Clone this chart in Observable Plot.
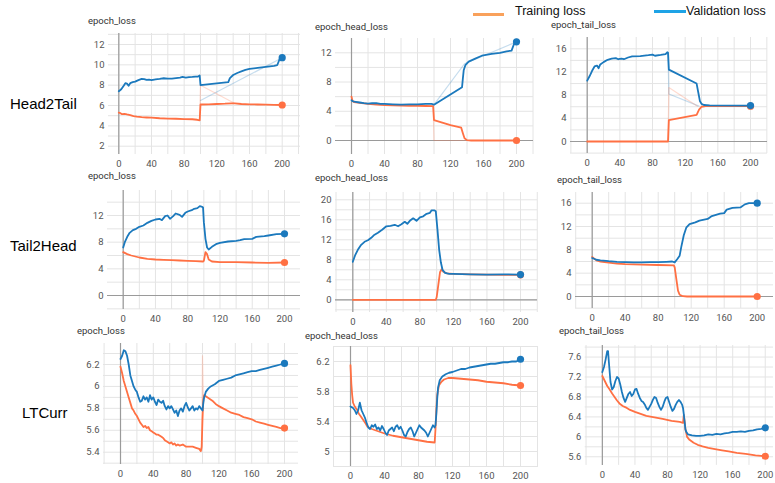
<!DOCTYPE html>
<html><head><meta charset="utf-8">
<script src="https://cdn.jsdelivr.net/npm/d3@7"></script>
<script src="https://cdn.jsdelivr.net/npm/@observablehq/plot@0.6"></script>
<style>
body{margin:0;background:#fff;}
#root{position:relative;width:775px;height:483px;overflow:hidden;background:#fff;}
.panel{position:absolute;}
.title{position:absolute;font:9.5px Roboto,"Liberation Sans",sans-serif;color:#333;white-space:nowrap;transform:translateY(-50%);}
.row{position:absolute;font:15px "Liberation Sans",Arial,sans-serif;color:#000;white-space:nowrap;transform:translateY(-50%);}
.leg{position:absolute;font:12.5px "Liberation Sans",Arial,sans-serif;color:#111;white-space:nowrap;transform:translateY(-50%);}
.legline{position:absolute;height:3px;}
</style></head><body><div id="root"></div>
<script>
// ---------------- data ----------------
const rowNames = ["Head2Tail", "Tail2Head", "LTCurr"];
const panelTitles = ["epoch_loss","epoch_head_loss","epoch_tail_loss","epoch_loss","epoch_head_loss","epoch_tail_loss","epoch_loss","epoch_head_loss","epoch_tail_loss"];
const legendLabels = ["Training loss", "Validation loss"];
const xTickLabels = [0, 40, 80, 120, 160, 200];

// Head2Tail
const h2tLossVal = [[0,7.4],[3,7.6],[6,7.95],[8,8.2],[10,8.15],[12,7.95],[14,8.2],[17,8.3],[20,8.35],[24,8.5],[28,8.62],[31,8.6],[34,8.52],[37,8.55],[40,8.5],[45,8.58],[50,8.62],[55,8.68],[60,8.65],[65,8.65],[70,8.7],[75,8.75],[78,8.82],[82,8.75],[86,8.8],[90,8.82],[94,8.85],[97,8.85],[99,8.95],[100,8.0],[134,8.3],[136,8.7],[140,9.0],[145,9.2],[150,9.35],[155,9.5],[160,9.6],[170,9.7],[180,9.8],[190,9.9],[194,9.98],[197,10.6],[200,10.7]];
const h2tLossTrain = [[0,5.3],[2,5.25],[4,5.15],[7,5.18],[10,5.12],[14,5.05],[18,4.95],[22,4.9],[28,4.85],[34,4.82],[40,4.8],[50,4.75],[60,4.72],[70,4.7],[80,4.67],[90,4.65],[96,4.6],[99,4.55],[100,6.1],[110,6.12],[120,6.15],[130,6.18],[138,6.22],[142,6.22],[150,6.15],[160,6.12],[170,6.1],[180,6.08],[190,6.06],[200,6.05]];
const h2tLossValRaw = [[100,6.5],[200,10.7]];
const h2tLossTrainRaw = [[99,4.55],[100,8.0],[141,6.25]];

const h2tHeadVal = [[0,5.5],[2,5.35],[5,5.3],[10,5.2],[15,5.1],[20,5.05],[25,5.1],[30,5.1],[35,5.0],[40,5.0],[50,4.95],[60,4.9],[70,4.95],[80,4.95],[90,5.0],[97,5.0],[100,4.9],[134,7.3],[135,8.5],[136,9.6],[138,10.3],[142,10.8],[150,11.2],[158,11.6],[170,11.85],[180,12.0],[188,12.2],[194,12.3],[197,13.2],[200,13.5]];
const h2tHeadTrain = [[0,6.0],[1,5.5],[3,5.25],[10,5.15],[20,5.0],[30,4.9],[40,4.85],[50,4.8],[60,4.78],[70,4.75],[80,4.73],[90,4.72],[99,4.7],[100,2.8],[110,2.45],[120,2.1],[133,1.75],[135,1.0],[137,0.3],[140,0.05],[145,0],[200,0]];
const h2tHeadValRaw = [[100,4.9],[137,10.5],[200,13.5]];
const h2tHeadTrainRaw = [[99,4.7],[100,0],[140,0]];

const h2tTailVal = [[0,10.5],[3,11.3],[6,12.2],[9,12.95],[12,13.1],[14,12.65],[16,13.3],[20,13.7],[25,14.1],[30,14.3],[35,14.4],[38,14.2],[42,14.3],[45,14.2],[50,14.5],[55,14.7],[65,14.75],[75,14.9],[80,15.0],[83,14.8],[90,14.95],[96,15.1],[98,15.4],[99,15.3],[100,12.4],[134,10.0],[136,8.5],[138,7.0],[140,6.5],[143,6.3],[150,6.25],[200,6.2]];
const h2tTailTrain = [[0,0],[99,0],[100,3.7],[134,4.6],[137,5.5],[140,6.0],[145,6.1],[200,6.1]];
const h2tTailValRaw = [[99,15.3],[100,8.2],[137,6.1]];
const h2tTailTrainRaw = [[99,0],[100,9.3],[135,6.1]];

// Tail2Head
const t2hLossVal = [[0,7.2],[2,8.0],[5,8.8],[8,9.4],[12,9.8],[16,10.0],[20,10.3],[25,10.5],[30,10.9],[35,11.2],[40,11.4],[45,11.5],[48,11.3],[52,11.9],[55,12.0],[58,11.5],[62,11.9],[65,12.3],[70,12.1],[73,11.8],[77,12.4],[80,12.6],[85,12.8],[88,13.0],[92,13.1],[95,13.4],[98,13.3],[99,13.2],[100,11.0],[102,8.5],[104,7.2],[106,6.9],[110,7.3],[115,7.7],[120,7.9],[130,8.1],[140,8.2],[145,8.3],[150,8.45],[160,8.5],[165,8.8],[175,8.9],[180,9.0],[190,9.2],[200,9.25]];
const t2hLossTrain = [[0,6.5],[5,6.2],[10,6.0],[20,5.7],[30,5.5],[40,5.4],[50,5.35],[60,5.3],[70,5.25],[80,5.2],[90,5.15],[99,5.1],[100,5.2],[102,6.5],[104,6.2],[106,5.4],[110,5.1],[120,5.0],[140,5.0],[160,4.95],[180,4.9],[200,4.95]];

const t2hHeadVal = [[0,7.6],[3,9.0],[6,10.0],[10,11.0],[14,11.6],[18,11.9],[22,12.4],[25,12.9],[30,13.4],[35,14.0],[40,14.7],[45,14.8],[50,15.0],[54,14.7],[58,15.1],[62,15.6],[65,15.2],[68,15.8],[72,16.3],[76,15.8],[80,16.5],[84,16.7],[88,17.2],[92,17.4],[94,17.9],[97,17.9],[99,17.7],[101,14.0],[103,10.0],[105,7.5],[107,6.0],[110,5.4],[115,5.2],[120,5.2],[140,5.1],[160,5.05],[180,5.1],[200,5.05]];
const t2hHeadTrain = [[0,0],[99,0],[100,0.5],[102,3.0],[104,5.5],[106,6.1],[108,5.6],[112,5.3],[120,5.2],[140,5.1],[160,5.05],[180,5.0],[200,5.0]];

const t2hTailVal = [[0,6.6],[5,6.3],[10,6.2],[20,6.05],[30,5.95],[40,5.9],[50,5.85],[60,5.85],[70,5.9],[80,5.9],[90,5.95],[97,6.0],[100,5.85],[103,6.4],[106,7.0],[108,8.5],[111,10.5],[114,11.8],[118,12.4],[125,12.7],[130,13.0],[140,13.3],[145,13.8],[150,14.0],[155,14.2],[160,14.3],[163,14.9],[170,15.2],[180,15.3],[185,15.8],[190,16.0],[200,16.0]];
const t2hTailTrain = [[0,6.8],[5,6.2],[10,6.0],[20,5.8],[30,5.65],[40,5.55],[60,5.45],[80,5.4],[99,5.35],[100,5.0],[102,3.0],[104,1.0],[106,0.3],[110,0.05],[115,0],[200,0]];

// LTCurr
const ltLossVal = [[0,6.25],[2,6.28],[4,6.33],[6,6.32],[8,6.28],[10,6.2],[12,6.1],[14,6.05],[16,6.0],[18,5.97],[20,5.95],[22,5.9],[24,5.86],[26,5.87],[28,5.91],[30,5.88],[32,5.9],[34,5.86],[36,5.92],[38,5.88],[40,5.9],[42,5.86],[44,5.83],[46,5.88],[48,5.86],[50,5.85],[52,5.87],[54,5.82],[56,5.79],[58,5.82],[60,5.8],[62,5.82],[64,5.79],[66,5.76],[68,5.78],[70,5.73],[72,5.78],[74,5.8],[76,5.77],[78,5.82],[80,5.85],[82,5.81],[84,5.78],[86,5.8],[88,5.82],[90,5.78],[92,5.8],[94,5.79],[96,5.82],[98,5.8],[100,5.78],[101,5.85],[102,5.9],[104,5.95],[107,5.98],[110,6.0],[115,6.02],[120,6.05],[125,6.06],[130,6.07],[135,6.08],[140,6.1],[145,6.11],[150,6.12],[155,6.13],[160,6.14],[165,6.14],[170,6.15],[175,6.16],[180,6.17],[185,6.18],[190,6.19],[195,6.2],[200,6.21]];
const ltLossTrain = [[0,6.18],[2,6.12],[4,6.05],[6,6.0],[8,5.95],[10,5.9],[12,5.85],[14,5.8],[16,5.78],[18,5.75],[20,5.73],[22,5.7],[24,5.67],[26,5.65],[28,5.63],[30,5.64],[32,5.62],[34,5.63],[36,5.6],[38,5.59],[40,5.58],[42,5.57],[44,5.56],[46,5.56],[48,5.55],[50,5.54],[52,5.53],[54,5.51],[56,5.5],[58,5.49],[60,5.48],[62,5.49],[64,5.47],[66,5.48],[68,5.46],[70,5.47],[72,5.46],[76,5.47],[80,5.45],[84,5.45],[88,5.45],[92,5.44],[96,5.43],[98,5.41],[99,5.45],[100,5.7],[101,5.88],[102,5.92],[104,5.91],[108,5.89],[112,5.87],[116,5.84],[120,5.82],[125,5.8],[130,5.78],[135,5.76],[140,5.75],[145,5.74],[150,5.72],[155,5.71],[160,5.7],[165,5.68],[170,5.67],[175,5.66],[180,5.65],[185,5.64],[190,5.63],[195,5.62],[200,5.62]];
const ltLossTrainRaw = [[99,5.42],[100,6.28],[101,5.9]];

const ltHeadVal = [[0,5.6],[3,5.58],[5,5.55],[7,5.5],[9,5.55],[11,5.65],[13,5.55],[15,5.5],[17,5.45],[19,5.38],[21,5.32],[23,5.3],[25,5.35],[27,5.33],[29,5.36],[31,5.3],[33,5.32],[35,5.28],[37,5.34],[39,5.3],[41,5.25],[43,5.22],[45,5.28],[47,5.3],[49,5.32],[51,5.27],[53,5.33],[55,5.35],[57,5.3],[59,5.33],[61,5.28],[63,5.22],[65,5.2],[67,5.26],[69,5.3],[71,5.32],[73,5.27],[75,5.2],[77,5.25],[79,5.3],[81,5.35],[83,5.32],[85,5.3],[87,5.28],[89,5.25],[91,5.2],[93,5.25],[95,5.3],[97,5.35],[99,5.32],[100,5.35],[101,5.5],[102,5.7],[103,5.85],[105,5.95],[108,6.0],[112,6.03],[116,6.05],[120,6.06],[125,6.08],[130,6.1],[135,6.1],[140,6.12],[145,6.13],[150,6.14],[155,6.15],[160,6.16],[165,6.17],[170,6.17],[175,6.18],[180,6.19],[185,6.19],[190,6.2],[195,6.2],[200,6.23]];
const ltHeadTrain = [[0,6.15],[1,5.9],[2,5.75],[3,5.65],[5,5.6],[8,5.55],[10,5.5],[12,5.47],[15,5.42],[18,5.37],[20,5.33],[25,5.3],[30,5.28],[40,5.24],[50,5.21],[60,5.19],[70,5.17],[80,5.15],[90,5.13],[99,5.12],[100,5.3],[101,5.55],[102,5.75],[104,5.88],[107,5.93],[110,5.96],[115,5.98],[120,5.98],[130,5.97],[140,5.96],[150,5.95],[160,5.93],[170,5.92],[180,5.91],[190,5.89],[200,5.88]];

const ltTailVal = [[0,7.3],[2,7.4],[4,7.55],[6,7.72],[7,7.72],[8,7.5],[10,7.1],[12,6.95],[14,7.0],[16,7.12],[18,7.2],[20,7.17],[22,7.05],[24,6.9],[26,6.78],[28,6.7],[30,6.78],[32,6.86],[34,6.9],[36,6.82],[38,6.86],[40,6.95],[42,6.96],[44,6.86],[46,6.78],[48,6.72],[50,6.7],[52,6.65],[54,6.58],[56,6.54],[58,6.6],[60,6.66],[62,6.74],[64,6.8],[66,6.78],[68,6.68],[70,6.6],[72,6.54],[74,6.6],[76,6.7],[78,6.78],[80,6.8],[82,6.7],[84,6.6],[86,6.52],[88,6.56],[90,6.64],[92,6.7],[94,6.74],[96,6.7],[98,6.64],[99,6.58],[100,6.45],[101,6.3],[102,6.15],[103,6.1],[105,6.05],[110,6.03],[115,6.02],[120,6.02],[125,6.03],[130,6.05],[135,6.04],[140,6.06],[145,6.05],[150,6.07],[155,6.08],[160,6.1],[165,6.1],[170,6.11],[175,6.1],[180,6.12],[185,6.13],[190,6.15],[195,6.16],[200,6.18]];
const ltTailTrain = [[0,7.22],[3,7.12],[6,7.02],[9,6.95],[12,6.87],[15,6.8],[18,6.73],[21,6.67],[25,6.62],[30,6.58],[34,6.54],[40,6.5],[47,6.46],[54,6.42],[64,6.39],[74,6.36],[85,6.32],[95,6.3],[99,6.28],[100,6.44],[101,6.3],[102,6.15],[104,6.0],[107,5.94],[112,5.88],[117,5.84],[123,5.81],[130,5.78],[140,5.75],[147,5.73],[155,5.71],[165,5.68],[176,5.66],[188,5.63],[200,5.61]];

// y tick labels and grid steps per panel
const yTickLabels = [
  [2,4,6,8,10,12],[0,4,8,12],[0,4,8,12,16],
  [0,4,8,12],[0,4,8,12,16,20],[0,4,8,12,16],
  [5.4,5.6,6,6.2],[5,5.4,5.8,6.2],[5.6,6,6.4,6.8,7.2,7.6]
];
yTickLabels[6] = [5.4,5.6,5.8,6,6.2];
const yGridSteps = [1,2,2, 2,2,2, 0.1,0.2,0.2];

// ---------------- layout (page pixels) ----------------
const layout = [
  {box:[108,33,300,154], x0:118.3, x200:281.7, yA:[12,44], yB:[2,145.7], title:[88,20]},
  {box:[335,38,533,154], x0:351, x200:516, yA:[12,52.3], yB:[0,140], title:[315,26]},
  {box:[570,37,767,153], x0:586.7, x200:750, yA:[16,48.3], yB:[0,141], title:[551,24]},
  {box:[107,190,300,309], x0:122.7, x200:284, yA:[12,215], yB:[0,295], title:[88,175]},
  {box:[335,192,537,312], x0:352.3, x200:520, yA:[20,199.3], yB:[0,299.3], title:[315,177]},
  {box:[575,192,773,308], x0:591.7, x200:756.7, yA:[16,202.7], yB:[0,296], title:[557,179]},
  {box:[103,343,298,464], x0:120, x200:284, yA:[6.2,364], yB:[5.4,451.7], title:[77,330]},
  {box:[333,346,538,466], x0:350, x200:520, yA:[6.2,361], yB:[5.0,451], title:[305,335]},
  {box:[585,345,775,466], x0:602.3, x200:766.7, yA:[7.6,356.7], yB:[5.6,457.3], title:[559,330]}
];
const series = [
  {val:h2tLossVal, train:h2tLossTrain, valRaw:h2tLossValRaw, trainRaw:h2tLossTrainRaw},
  {val:h2tHeadVal, train:h2tHeadTrain, valRaw:h2tHeadValRaw, trainRaw:h2tHeadTrainRaw},
  {val:h2tTailVal, train:h2tTailTrain, valRaw:h2tTailValRaw, trainRaw:h2tTailTrainRaw},
  {val:t2hLossVal, train:t2hLossTrain},
  {val:t2hHeadVal, train:t2hHeadTrain},
  {val:t2hTailVal, train:t2hTailTrain},
  {val:ltLossVal, train:ltLossTrain, trainRaw:ltLossTrainRaw},
  {val:ltHeadVal, train:ltHeadTrain},
  {val:ltTailVal, train:ltTailTrain}
];
const rowLabelPos = [[10,103],[10,245],[22,412]];

const BLUE = "#1b79bd", ORANGE = "#ff7043";
const root = document.getElementById("root");

function addDiv(cls, text, x, y) {
  const d = document.createElement("div");
  d.className = cls; d.textContent = text;
  d.style.left = x + "px"; d.style.top = y + "px";
  root.appendChild(d); return d;
}

layout.forEach((L, i) => {
  const S = series[i];
  const [l,t,r,b] = L.box;
  const ml = 34, mr = 2, mt = 2, mb = 22;
  const kx = (L.x200 - L.x0) / 200;
  const xdom = [(l - L.x0) / kx, (r - L.x0) / kx];
  const [va, pa] = L.yA, [vb, pb] = L.yB;
  const ky = (pb - pa) / (vb - va);
  const ydom = [va + (b - pa) / ky, va + (t - pa) / ky];
  const step = yGridSteps[i];
  const yGrid = d3.range(Math.ceil(ydom[0] / step), Math.floor(ydom[1] / step) + 1).map(k => +(k * step).toFixed(3));
  const xGrid = d3.range(-20, 241, 20).filter(v => v >= xdom[0] && v <= xdom[1]);
  const gx = d => d[0], gy = d => d[1];
  const marks = [
    Plot.ruleY(yGrid, {stroke:"#e4e4e4", strokeWidth:1}),
    Plot.ruleX(xGrid, {stroke:"#e4e4e4", strokeWidth:1}),
    Plot.ruleX([0], {stroke:"#9a9a9a", strokeWidth:1.2})
  ];
  if (ydom[0] < 0) marks.push(Plot.ruleY([0], {stroke:"#9a9a9a", strokeWidth:1.2}));
  if (S.valRaw) marks.push(Plot.line(S.valRaw, {x:gx, y:gy, stroke:BLUE, strokeOpacity:0.25, strokeWidth:1.2, clip:true}));
  if (S.trainRaw) marks.push(Plot.line(S.trainRaw, {x:gx, y:gy, stroke:ORANGE, strokeOpacity:0.25, strokeWidth:1.2, clip:true}));
  marks.push(
    Plot.line(S.train, {x:gx, y:gy, stroke:ORANGE, strokeWidth:1.8, clip:true}),
    Plot.line(S.val, {x:gx, y:gy, stroke:BLUE, strokeWidth:1.8, clip:true}),
    Plot.dot([S.train[S.train.length-1]], {x:gx, y:gy, r:3.6, fill:ORANGE}),
    Plot.dot([S.val[S.val.length-1]], {x:gx, y:gy, r:3.6, fill:BLUE})
  );
  const svg = Plot.plot({
    width: (r - l) + ml + mr, height: (b - t) + mt + mb,
    marginLeft: ml, marginRight: mr, marginTop: mt, marginBottom: mb,
    x: {domain: xdom, ticks: xTickLabels, tickSize: 0, tickPadding: 6, label: null, tickFormat: d => String(d)},
    y: {domain: ydom, ticks: yTickLabels[i], tickSize: 0, tickPadding: 4, label: null, tickFormat: d => String(d)},
    style: {fontSize: "9.5px", fontFamily: "Roboto, 'Liberation Sans', sans-serif", color: "#555", background: "transparent", overflow: "visible"},
    marks
  });
  const wrap = document.createElement("div");
  wrap.className = "panel";
  wrap.style.left = (l - ml) + "px"; wrap.style.top = (t - mt) + "px";
  wrap.appendChild(svg);
  root.appendChild(wrap);
  addDiv("title", panelTitles[i], L.title[0], L.title[1]);
});

rowNames.forEach((n, i) => addDiv("row", n, rowLabelPos[i][0], rowLabelPos[i][1]));

// legend
const lg1 = document.createElement("div"); lg1.className = "legline";
lg1.style.cssText += "left:473px;top:12.5px;width:31px;background:#f9a15b;";
root.appendChild(lg1);
addDiv("leg", legendLabels[0], 515, 11);
const lg2 = document.createElement("div"); lg2.className = "legline";
lg2.style.cssText += "left:654px;top:9.5px;width:32px;background:#1ea3e6;";
root.appendChild(lg2);
addDiv("leg", legendLabels[1], 686, 11);
</script>
</body></html>
